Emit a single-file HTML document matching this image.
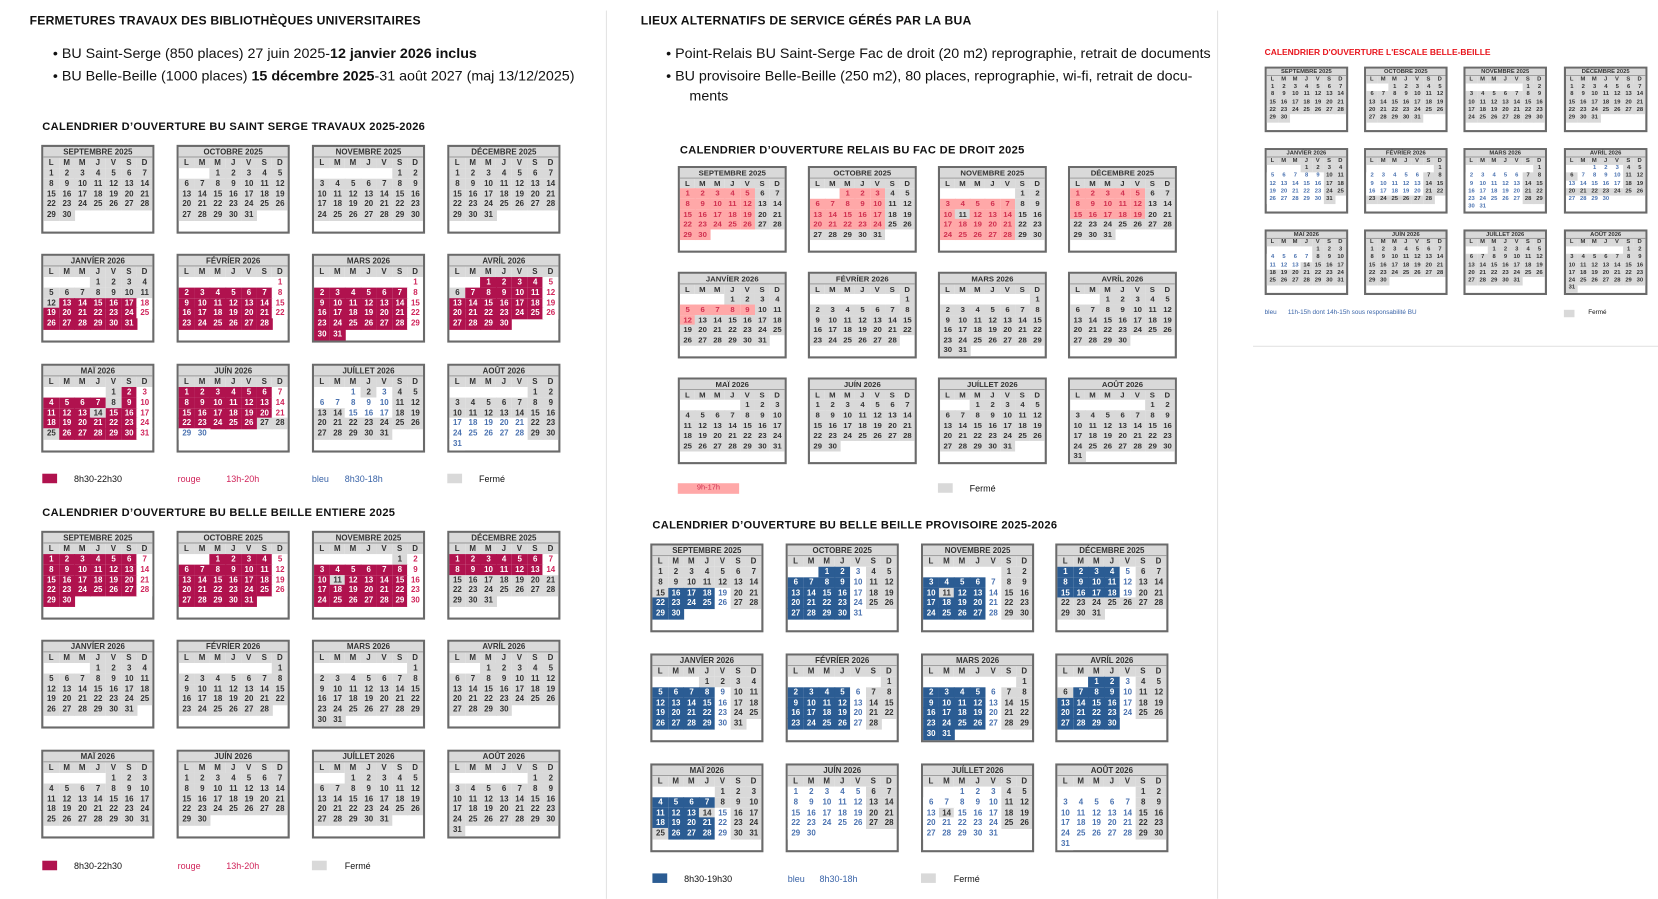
<!DOCTYPE html>
<html><head><meta charset="utf-8">
<style>
body{margin:0;width:1658px;height:895px;background:#fff;position:relative;overflow:hidden;font-family:"Liberation Sans",sans-serif;color:#111}
#wrap{position:absolute;left:0;top:0;width:1568px;height:847px;transform:scale(1.0574);transform-origin:0 0}
.a{position:absolute;white-space:nowrap}
.h1{font-weight:bold;font-size:11.5px;letter-spacing:0.2px}
.bul{font-size:13.5px}
.t{font-weight:900;font-size:10.5px;letter-spacing:0.3px}
.lg{font-size:8.5px}
.cal{position:absolute;border:2px solid #6a6a6a;box-sizing:border-box;background:#fff;font-weight:bold;color:#333}
.cal div{position:absolute;text-align:center;box-sizing:border-box}
</style></head><body>
<div id="wrap">
<div class="a" style="left:573px;top:10px;width:1px;height:840px;background:#e2e2e2"></div>
<div class="a" style="left:1151px;top:10px;width:1px;height:840px;background:#e2e2e2"></div>
<div class="a" style="left:1185px;top:327px;width:383px;height:1px;background:#e2e2e2"></div>

<div class="a h1" style="left:28px;top:14px">FERMETURES TRAVAUX DES BIBLIOTHÈQUES UNIVERSITAIRES</div>
<div class="a bul" style="left:50px;top:43px">• BU Saint-Serge (850 places) 27 juin 2025-<b>12 janvier 2026 inclus</b></div>
<div class="a bul" style="left:50px;top:64px">• BU Belle-Beille (1000 places) <b>15 décembre 2025</b>-31 août 2027 (maj 13/12/2025)</div>
<div class="a t" style="left:40px;top:114px">CALENDRIER D’OUVERTURE BU SAINT SERGE TRAVAUX 2025-2026</div>
<div class="a t" style="left:40px;top:479px">CALENDRIER D’OUVERTURE BU BELLE BEILLE ENTIERE 2025</div>

<div class="a h1" style="left:606px;top:14px">LIEUX ALTERNATIFS DE SERVICE GÉRÉS PAR LA BUA</div>
<div class="a bul" style="left:630px;top:43px">• Point-Relais BU Saint-Serge Fac de droit (20 m2) reprographie, retrait de documents</div>
<div class="a bul" style="left:630px;top:64px">• BU provisoire Belle-Beille (250 m2), 80 places, reprographie, wi-fi, retrait de docu-</div>
<div class="a bul" style="left:652px;top:83px">ments</div>
<div class="a t" style="left:643px;top:136px">CALENDRIER D’OUVERTURE RELAIS BU FAC DE DROIT 2025</div>
<div class="a t" style="left:617px;top:491px">CALENDRIER D’OUVERTURE BU BELLE BEILLE PROVISOIRE 2025-2026</div>

<div class="a" style="left:1196px;top:45px;font-size:8px;font-weight:900;color:#e8141c">CALENDRIER D'OUVERTURE L'ESCALE BELLE-BEILLE</div>

<div class="a" style="left:40px;top:448px;width:14px;height:9px;background:#b0124e"></div>
<div class="a lg" style="left:70px;top:448px">8h30-22h30</div>
<div class="a lg" style="left:168px;top:448px;color:#d0245a">rouge</div>
<div class="a lg" style="left:214px;top:448px;color:#d0245a">13h-20h</div>
<div class="a lg" style="left:295px;top:448px;color:#3a64a8">bleu</div>
<div class="a lg" style="left:326px;top:448px;color:#3a64a8">8h30-18h</div>
<div class="a" style="left:423px;top:448px;width:14px;height:9px;background:#d9d9d9"></div>
<div class="a lg" style="left:453px;top:448px">Fermé</div>

<div class="a" style="left:40px;top:814px;width:14px;height:9px;background:#b0124e"></div>
<div class="a lg" style="left:70px;top:814px">8h30-22h30</div>
<div class="a lg" style="left:168px;top:814px;color:#d0245a">rouge</div>
<div class="a lg" style="left:214px;top:814px;color:#d0245a">13h-20h</div>
<div class="a" style="left:295px;top:814px;width:14px;height:9px;background:#d9d9d9"></div>
<div class="a lg" style="left:326px;top:814px">Fermé</div>

<div class="a lg" style="left:641px;top:457px;width:58px;height:10px;background:#ffa8a8;color:#d03050;text-align:center;font-size:7px;line-height:10px">9h-17h</div>
<div class="a" style="left:887px;top:457px;width:14px;height:9px;background:#d9d9d9"></div>
<div class="a lg" style="left:917px;top:457px">Fermé</div>

<div class="a" style="left:617px;top:826px;width:14px;height:9px;background:#2b5c93"></div>
<div class="a lg" style="left:647px;top:826px">8h30-19h30</div>
<div class="a lg" style="left:745px;top:826px;color:#3a64a8">bleu</div>
<div class="a lg" style="left:775px;top:826px;color:#3a64a8">8h30-18h</div>
<div class="a" style="left:871px;top:826px;width:14px;height:9px;background:#d9d9d9"></div>
<div class="a lg" style="left:902px;top:826px">Fermé</div>

<div class="a" style="left:1196px;top:293px;font-size:6px;color:#3a64a8">bleu</div>
<div class="a" style="left:1218px;top:293px;font-size:6px;color:#3a64a8">11h-15h dont 14h-15h sous responsabilité BU</div>
<div class="a" style="left:1479px;top:293px;width:10px;height:7px;background:#d9d9d9"></div>
<div class="a" style="left:1502px;top:293px;font-size:6px">Fermé</div>
</div>

<script>
const monthNames=["SEPTEMBRE 2025","OCTOBRE 2025","NOVEMBRE 2025","DÉCEMBRE 2025","JANVÍER 2026","FÉVRÍER 2026","MARS 2026","AVRÍL 2026","MAÏ 2026","JUÍN 2026","JUÍLLET 2026","AOÛT 2026"];
const monthYears=[[2025,8],[2025,9],[2025,10],[2025,11],[2026,0],[2026,1],[2026,2],[2026,3],[2026,4],[2026,5],[2026,6],[2026,7]];
const dayLetters=["L","M","M","J","V","S","D"];
const holidays=["2025-11-01","2025-11-11","2025-12-25","2026-01-01","2026-04-06","2026-05-01","2026-05-08","2026-05-14","2026-05-25","2026-07-14","2026-08-15"];
const ST={g:["#d9d9d9","#333"],c:["#b0124e","#fff"],p:["#fff","#d0245a"],b:["#fff","#4a72b0"],P:["#ffa8a8","#d03050"],B:["#2b5c93","#fff"]};
const wrap=document.getElementById('wrap');
function key(y,m,d){return y+"-"+String(m+1).padStart(2,"0")+"-"+String(d).padStart(2,"0");}
function num(y,m,d){return y*10000+(m+1)*100+d;}
function hol(y,m,d){return holidays.includes(key(y,m,d));}

const rules={
 A(y,m,d,w){const n=num(y,m,d);
  if(n<20260113)return'g';
  if(n<=20260626){if(hol(y,m,d))return'g';return w==6?'p':'c';}
  if(n<=20260628)return'g';
  if(n<=20260630)return'b';
  if(m==6){if(w>=5||n>20260717||d==2||d==13||d==14)return'g';return'b';}
  if(m==7){if(d<=16||w>=5)return'g';return'b';}
  return'g';},
 B(y,m,d,w){const n=num(y,m,d);
  if(n<=20251214){if(hol(y,m,d))return'g';return w==6?'p':'c';}
  return'g';},
 C(y,m,d,w){const n=num(y,m,d);
  if(w>=5||hol(y,m,d))return'g';
  if(n<=20251024||(n>=20251103&&n<=20251219)||(n>=20260105&&n<=20260112))return'P';
  return'g';},
 D(y,m,d,w){const n=num(y,m,d);
  if(n<20250916||w>=5||hol(y,m,d))return'g';
  if(n>=20251222&&n<=20260104)return'g';
  if(n>20260531)return'b';
  return w==4?'b':'B';},
 E(y,m,d,w){const n=num(y,m,d);
  if(n<20260105||n>20260513||w>=5||hol(y,m,d))return'g';
  if(n>=20260223&&n<=20260228)return'g';
  if(n>=20260420&&n<=20260424)return'g';
  return'b';}
};

function cal(x,y,w,h,idx,rule,fs,name){
  const [yr,mo]=monthYears[idx];
  const box=document.createElement('div');
  box.className='cal';
  
  
  box.style.cssText=`left:${x}px;top:${y}px;width:${w}px;height:${h}px;font-size:${fs}px`;
  const iw=w-4, rh=(h-4)/8.1, cw=iw/7;
  const hd=document.createElement('div');
  
  
  hd.style.cssText=`left:0;top:0;width:${iw}px;height:${rh}px;line-height:${rh}px;background:#d9d9d9;border-bottom:1px solid #999`;
  hd.textContent=monthNames[idx];box.appendChild(hd);
  for(let i=0;i<7;i++){const c=document.createElement('div');
    
    
    c.style.cssText=`left:${i*cw}px;top:${rh}px;width:${cw}px;height:${rh}px;line-height:${rh}px;background:#d9d9d9`;
    c.textContent=dayLetters[i];box.appendChild(c);}
  const first=(new Date(yr,mo,1).getDay()+6)%7, nd=new Date(yr,mo+1,0).getDate();
  for(let d=1;d<=nd;d++){const p=first+d-1,r=Math.floor(p/7),col=p%7;
    const s=ST[rules[rule](yr,mo,d,col)];
    const c=document.createElement('div');
    
    
    c.style.cssText=`left:${col*cw}px;top:${rh*(2+r)}px;width:${cw+0.5}px;height:${rh+0.5}px;line-height:${rh}px;background:${s[0]};color:${s[1]}`;
    c.textContent=d;box.appendChild(c);}
  wrap.appendChild(box);
}
const panels=[
 {rule:'A',xs:[39,167,295,423],ys:[137,240,344],w:107,h:84,fs:7.5},
 {rule:'B',xs:[39,167,295,423],ys:[502,605,709],w:107,h:84,fs:7.5},
 {rule:'C',xs:[641,764,887,1010],ys:[157,257,357],w:103,h:82,fs:7.3},
 {rule:'D',xs:[615,743,871,998],ys:[514,618,722],w:107,h:84,fs:7.5},
 {rule:'E',xs:[1196,1290,1384,1479],ys:[63,140,217],w:79,h:62,fs:5.5}
];
panels.forEach(pn=>{for(let r=0;r<3;r++)for(let c=0;c<4;c++)
  cal(pn.xs[c],pn.ys[r],pn.w,pn.h,r*4+c,pn.rule,pn.fs,'calendar-'+pn.rule+'-'+(r*4+c));});
</script>
</body></html>
